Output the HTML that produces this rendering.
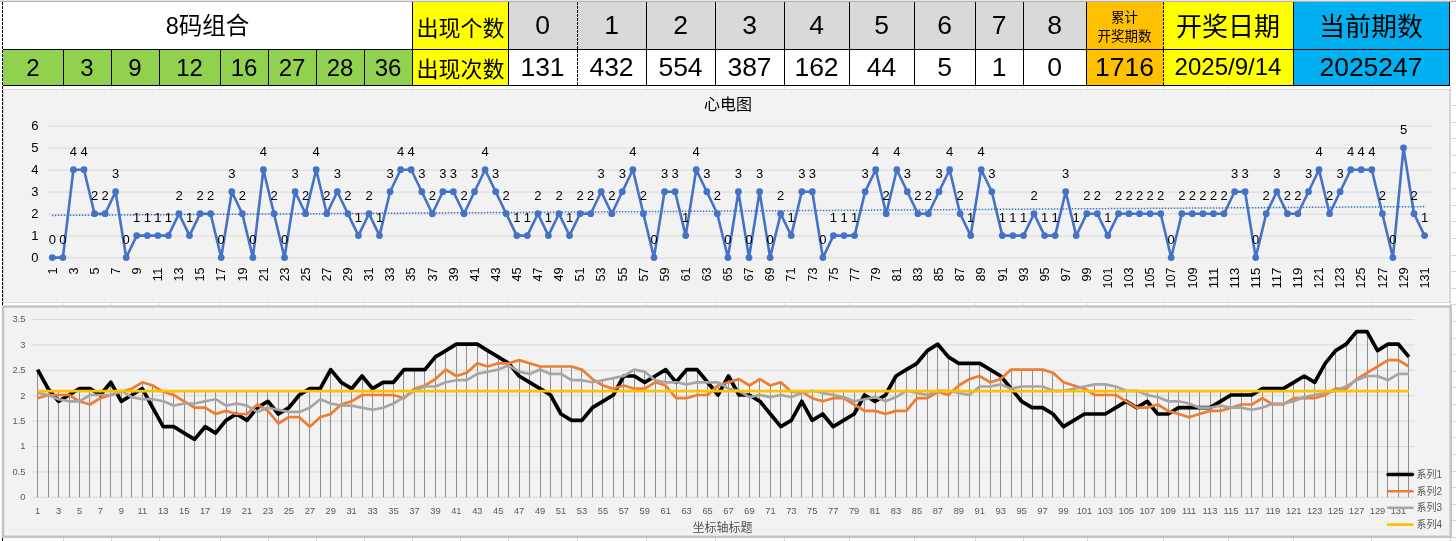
<!DOCTYPE html><html><head><meta charset="utf-8"><title>8码组合</title><style>
html,body{margin:0;padding:0;background:#fff;}
body{width:1456px;height:541px;overflow:hidden;position:relative;font-family:"Liberation Sans", "Noto Sans CJK SC", sans-serif;color:#000;}
.c{position:absolute;box-sizing:border-box;display:flex;align-items:center;justify-content:center;white-space:nowrap;line-height:1;}
.ln{position:absolute;background:#000;}
svg{position:absolute;left:0;top:0;}
svg text{font-family:"Liberation Sans", "Noto Sans CJK SC", sans-serif;}

</style></head><body>
<div class="ln" style="left:0;top:0;width:1456px;height:1px;background:#e4e4e4"></div>
<div class="ln" style="left:0;top:1px;width:1456px;height:1px;background:#b4b4b4"></div>
<div class="c" style="left:3px;top:2px;width:409px;height:47px;background:#fff;font-size:23.5px;padding-top:2px;">8码组合</div>
<div class="c" style="left:412px;top:2px;width:96px;height:47px;background:#ffff00;font-size:22px;padding-top:6px;padding-left:1px;">出现个数</div>
<div class="c" style="left:508px;top:2px;width:69px;height:47px;background:#d9d9d9;font-size:26.5px;">0</div>
<div class="c" style="left:508px;top:49px;width:69px;height:36px;background:#fff;font-size:26.5px;">131</div>
<div class="c" style="left:577px;top:2px;width:69px;height:47px;background:#d9d9d9;font-size:26.5px;">1</div>
<div class="c" style="left:577px;top:49px;width:69px;height:36px;background:#fff;font-size:26.5px;">432</div>
<div class="c" style="left:646px;top:2px;width:69px;height:47px;background:#d9d9d9;font-size:26.5px;">2</div>
<div class="c" style="left:646px;top:49px;width:69px;height:36px;background:#fff;font-size:26.5px;">554</div>
<div class="c" style="left:715px;top:2px;width:69px;height:47px;background:#d9d9d9;font-size:26.5px;">3</div>
<div class="c" style="left:715px;top:49px;width:69px;height:36px;background:#fff;font-size:26.5px;">387</div>
<div class="c" style="left:784px;top:2px;width:65px;height:47px;background:#d9d9d9;font-size:26.5px;">4</div>
<div class="c" style="left:784px;top:49px;width:65px;height:36px;background:#fff;font-size:26.5px;">162</div>
<div class="c" style="left:849px;top:2px;width:65px;height:47px;background:#d9d9d9;font-size:26.5px;">5</div>
<div class="c" style="left:849px;top:49px;width:65px;height:36px;background:#fff;font-size:26.5px;">44</div>
<div class="c" style="left:914px;top:2px;width:61px;height:47px;background:#d9d9d9;font-size:26.5px;">6</div>
<div class="c" style="left:914px;top:49px;width:61px;height:36px;background:#fff;font-size:26.5px;">5</div>
<div class="c" style="left:975px;top:2px;width:48px;height:47px;background:#d9d9d9;font-size:26.5px;">7</div>
<div class="c" style="left:975px;top:49px;width:48px;height:36px;background:#fff;font-size:26.5px;">1</div>
<div class="c" style="left:1023px;top:2px;width:63px;height:47px;background:#d9d9d9;font-size:26.5px;">8</div>
<div class="c" style="left:1023px;top:49px;width:63px;height:36px;background:#fff;font-size:26.5px;">0</div>
<div class="c" style="left:1086px;top:2px;width:77px;height:47px;background:#ffc000;font-size:13.5px;padding-top:4px;"><div style="text-align:center;line-height:18.6px;font-size:13.5px">累计<br>开奖期数</div></div>
<div class="c" style="left:1163px;top:2px;width:130px;height:47px;background:#ffff00;font-size:26px;padding-top:2px;">开奖日期</div>
<div class="c" style="left:1293px;top:2px;width:156px;height:47px;background:#00b0f0;font-size:26px;padding-top:2px;">当前期数</div>
<div class="c" style="left:3px;top:49px;width:60px;height:36px;background:#92d050;font-size:24px;padding-top:1px;">2</div>
<div class="c" style="left:63px;top:49px;width:48px;height:36px;background:#92d050;font-size:24px;padding-top:1px;">3</div>
<div class="c" style="left:111px;top:49px;width:48px;height:36px;background:#92d050;font-size:24px;padding-top:1px;">9</div>
<div class="c" style="left:159px;top:49px;width:61px;height:36px;background:#92d050;font-size:24px;padding-top:1px;">12</div>
<div class="c" style="left:220px;top:49px;width:48px;height:36px;background:#92d050;font-size:24px;padding-top:1px;">16</div>
<div class="c" style="left:268px;top:49px;width:48px;height:36px;background:#92d050;font-size:24px;padding-top:1px;">27</div>
<div class="c" style="left:316px;top:49px;width:48px;height:36px;background:#92d050;font-size:24px;padding-top:1px;">28</div>
<div class="c" style="left:364px;top:49px;width:48px;height:36px;background:#92d050;font-size:24px;padding-top:1px;">36</div>
<div class="c" style="left:412px;top:49px;width:96px;height:36px;background:#ffff00;font-size:22px;padding-top:5px;padding-left:1px;">出现次数</div>
<div class="c" style="left:1086px;top:49px;width:77px;height:36px;background:#ffc000;font-size:26.5px;">1716</div>
<div class="c" style="left:1163px;top:49px;width:130px;height:36px;background:#ffff00;font-size:24px;">2025/9/14</div>
<div class="c" style="left:1293px;top:49px;width:156px;height:36px;background:#00b0f0;font-size:26.5px;">2025247</div>
<div class="ln" style="left:3px;top:49px;width:1447px;height:1px;background:#000"></div>
<div class="ln" style="left:3px;top:85px;width:1447px;height:1px;background:#000"></div>
<div class="ln" style="left:63px;top:49px;width:1px;height:37px;background:#000"></div>
<div class="ln" style="left:111px;top:49px;width:1px;height:37px;background:#000"></div>
<div class="ln" style="left:159px;top:49px;width:1px;height:37px;background:#000"></div>
<div class="ln" style="left:220px;top:49px;width:1px;height:37px;background:#000"></div>
<div class="ln" style="left:268px;top:49px;width:1px;height:37px;background:#000"></div>
<div class="ln" style="left:316px;top:49px;width:1px;height:37px;background:#000"></div>
<div class="ln" style="left:364px;top:49px;width:1px;height:37px;background:#000"></div>
<div class="ln" style="left:412px;top:49px;width:1px;height:37px;background:#000"></div>
<div class="ln" style="left:412px;top:2px;width:1px;height:84px;background:#000"></div>
<div class="ln" style="left:508px;top:2px;width:1px;height:84px;background:#000"></div>
<div class="ln" style="left:646px;top:2px;width:1px;height:84px;background:#000"></div>
<div class="ln" style="left:715px;top:2px;width:1px;height:84px;background:#000"></div>
<div class="ln" style="left:784px;top:2px;width:1px;height:84px;background:#000"></div>
<div class="ln" style="left:849px;top:2px;width:1px;height:84px;background:#000"></div>
<div class="ln" style="left:914px;top:2px;width:1px;height:84px;background:#000"></div>
<div class="ln" style="left:975px;top:2px;width:1px;height:84px;background:#000"></div>
<div class="ln" style="left:1023px;top:2px;width:1px;height:84px;background:#000"></div>
<div class="ln" style="left:1086px;top:2px;width:1px;height:84px;background:#000"></div>
<div class="ln" style="left:1293px;top:2px;width:1px;height:84px;background:#000"></div>
<div class="ln" style="left:1449px;top:2px;width:1px;height:84px;background:#000"></div>
<div class="ln" style="left:2px;top:2px;width:1px;height:539px;background:repeating-linear-gradient(to bottom,#000 0,#000 3px,transparent 3px,transparent 4px)"></div>
<div class="ln" style="left:577px;top:2px;width:1px;height:87px;background:repeating-linear-gradient(to bottom,#000 0,#000 3px,transparent 3px,transparent 4px)"></div>
<div class="ln" style="left:1163px;top:2px;width:1px;height:87px;background:repeating-linear-gradient(to bottom,#000 0,#000 3px,transparent 3px,transparent 4px)"></div>
<div class="ln" style="left:1450px;top:86px;width:1px;height:455px;background:#d4d4d4"></div>
<div class="ln" style="left:1450px;top:105px;width:6px;height:1px;background:#d9d9d9"></div>
<div class="ln" style="left:1450px;top:122px;width:6px;height:1px;background:#d9d9d9"></div>
<div class="ln" style="left:1450px;top:138px;width:6px;height:1px;background:#d9d9d9"></div>
<div class="ln" style="left:1450px;top:155px;width:6px;height:1px;background:#d9d9d9"></div>
<div class="ln" style="left:1450px;top:172px;width:6px;height:1px;background:#d9d9d9"></div>
<div class="ln" style="left:1450px;top:188px;width:6px;height:1px;background:#d9d9d9"></div>
<div class="ln" style="left:1450px;top:205px;width:6px;height:1px;background:#d9d9d9"></div>
<div class="ln" style="left:1450px;top:221px;width:6px;height:1px;background:#d9d9d9"></div>
<div class="ln" style="left:1450px;top:238px;width:6px;height:1px;background:#d9d9d9"></div>
<div class="ln" style="left:1450px;top:255px;width:6px;height:1px;background:#d9d9d9"></div>
<div class="ln" style="left:1450px;top:271px;width:6px;height:1px;background:#d9d9d9"></div>
<div class="ln" style="left:1450px;top:288px;width:6px;height:1px;background:#d9d9d9"></div>
<div class="ln" style="left:1450px;top:304px;width:6px;height:1px;background:#d9d9d9"></div>
<div class="ln" style="left:1450px;top:321px;width:6px;height:1px;background:#d9d9d9"></div>
<div class="ln" style="left:1450px;top:338px;width:6px;height:1px;background:#d9d9d9"></div>
<div class="ln" style="left:1450px;top:354px;width:6px;height:1px;background:#d9d9d9"></div>
<div class="ln" style="left:1450px;top:371px;width:6px;height:1px;background:#d9d9d9"></div>
<div class="ln" style="left:1450px;top:387px;width:6px;height:1px;background:#d9d9d9"></div>
<div class="ln" style="left:1450px;top:404px;width:6px;height:1px;background:#d9d9d9"></div>
<div class="ln" style="left:1450px;top:421px;width:6px;height:1px;background:#d9d9d9"></div>
<div class="ln" style="left:1450px;top:437px;width:6px;height:1px;background:#d9d9d9"></div>
<div class="ln" style="left:1450px;top:454px;width:6px;height:1px;background:#d9d9d9"></div>
<div class="ln" style="left:1450px;top:471px;width:6px;height:1px;background:#d9d9d9"></div>
<div class="ln" style="left:1450px;top:487px;width:6px;height:1px;background:#d9d9d9"></div>
<div class="ln" style="left:1450px;top:504px;width:6px;height:1px;background:#d9d9d9"></div>
<div class="ln" style="left:1450px;top:520px;width:6px;height:1px;background:#d9d9d9"></div>
<div class="ln" style="left:1450px;top:537px;width:6px;height:1px;background:#d9d9d9"></div>
<div class="ln" style="left:63px;top:86px;width:1px;height:3px;background:#e0e0e0"></div>
<div class="ln" style="left:63px;top:303px;width:1px;height:2px;background:#e0e0e0"></div>
<div class="ln" style="left:63px;top:538px;width:1px;height:3px;background:#d9d9d9"></div>
<div class="ln" style="left:111px;top:86px;width:1px;height:3px;background:#e0e0e0"></div>
<div class="ln" style="left:111px;top:303px;width:1px;height:2px;background:#e0e0e0"></div>
<div class="ln" style="left:111px;top:538px;width:1px;height:3px;background:#d9d9d9"></div>
<div class="ln" style="left:159px;top:86px;width:1px;height:3px;background:#e0e0e0"></div>
<div class="ln" style="left:159px;top:303px;width:1px;height:2px;background:#e0e0e0"></div>
<div class="ln" style="left:159px;top:538px;width:1px;height:3px;background:#d9d9d9"></div>
<div class="ln" style="left:220px;top:86px;width:1px;height:3px;background:#e0e0e0"></div>
<div class="ln" style="left:220px;top:303px;width:1px;height:2px;background:#e0e0e0"></div>
<div class="ln" style="left:220px;top:538px;width:1px;height:3px;background:#d9d9d9"></div>
<div class="ln" style="left:268px;top:86px;width:1px;height:3px;background:#e0e0e0"></div>
<div class="ln" style="left:268px;top:303px;width:1px;height:2px;background:#e0e0e0"></div>
<div class="ln" style="left:268px;top:538px;width:1px;height:3px;background:#d9d9d9"></div>
<div class="ln" style="left:316px;top:86px;width:1px;height:3px;background:#e0e0e0"></div>
<div class="ln" style="left:316px;top:303px;width:1px;height:2px;background:#e0e0e0"></div>
<div class="ln" style="left:316px;top:538px;width:1px;height:3px;background:#d9d9d9"></div>
<div class="ln" style="left:364px;top:86px;width:1px;height:3px;background:#e0e0e0"></div>
<div class="ln" style="left:364px;top:303px;width:1px;height:2px;background:#e0e0e0"></div>
<div class="ln" style="left:364px;top:538px;width:1px;height:3px;background:#d9d9d9"></div>
<div class="ln" style="left:412px;top:86px;width:1px;height:3px;background:#e0e0e0"></div>
<div class="ln" style="left:412px;top:303px;width:1px;height:2px;background:#e0e0e0"></div>
<div class="ln" style="left:412px;top:538px;width:1px;height:3px;background:#d9d9d9"></div>
<div class="ln" style="left:460px;top:86px;width:1px;height:3px;background:#e0e0e0"></div>
<div class="ln" style="left:460px;top:303px;width:1px;height:2px;background:#e0e0e0"></div>
<div class="ln" style="left:460px;top:538px;width:1px;height:3px;background:#d9d9d9"></div>
<div class="ln" style="left:508px;top:86px;width:1px;height:3px;background:#e0e0e0"></div>
<div class="ln" style="left:508px;top:303px;width:1px;height:2px;background:#e0e0e0"></div>
<div class="ln" style="left:508px;top:538px;width:1px;height:3px;background:#d9d9d9"></div>
<div class="ln" style="left:577px;top:86px;width:1px;height:3px;background:#e0e0e0"></div>
<div class="ln" style="left:577px;top:303px;width:1px;height:2px;background:#e0e0e0"></div>
<div class="ln" style="left:577px;top:538px;width:1px;height:3px;background:#d9d9d9"></div>
<div class="ln" style="left:646px;top:86px;width:1px;height:3px;background:#e0e0e0"></div>
<div class="ln" style="left:646px;top:303px;width:1px;height:2px;background:#e0e0e0"></div>
<div class="ln" style="left:646px;top:538px;width:1px;height:3px;background:#d9d9d9"></div>
<div class="ln" style="left:715px;top:86px;width:1px;height:3px;background:#e0e0e0"></div>
<div class="ln" style="left:715px;top:303px;width:1px;height:2px;background:#e0e0e0"></div>
<div class="ln" style="left:715px;top:538px;width:1px;height:3px;background:#d9d9d9"></div>
<div class="ln" style="left:784px;top:86px;width:1px;height:3px;background:#e0e0e0"></div>
<div class="ln" style="left:784px;top:303px;width:1px;height:2px;background:#e0e0e0"></div>
<div class="ln" style="left:784px;top:538px;width:1px;height:3px;background:#d9d9d9"></div>
<div class="ln" style="left:849px;top:86px;width:1px;height:3px;background:#e0e0e0"></div>
<div class="ln" style="left:849px;top:303px;width:1px;height:2px;background:#e0e0e0"></div>
<div class="ln" style="left:849px;top:538px;width:1px;height:3px;background:#d9d9d9"></div>
<div class="ln" style="left:914px;top:86px;width:1px;height:3px;background:#e0e0e0"></div>
<div class="ln" style="left:914px;top:303px;width:1px;height:2px;background:#e0e0e0"></div>
<div class="ln" style="left:914px;top:538px;width:1px;height:3px;background:#d9d9d9"></div>
<div class="ln" style="left:975px;top:86px;width:1px;height:3px;background:#e0e0e0"></div>
<div class="ln" style="left:975px;top:303px;width:1px;height:2px;background:#e0e0e0"></div>
<div class="ln" style="left:975px;top:538px;width:1px;height:3px;background:#d9d9d9"></div>
<div class="ln" style="left:1023px;top:86px;width:1px;height:3px;background:#e0e0e0"></div>
<div class="ln" style="left:1023px;top:303px;width:1px;height:2px;background:#e0e0e0"></div>
<div class="ln" style="left:1023px;top:538px;width:1px;height:3px;background:#d9d9d9"></div>
<div class="ln" style="left:1087px;top:86px;width:1px;height:3px;background:#e0e0e0"></div>
<div class="ln" style="left:1087px;top:303px;width:1px;height:2px;background:#e0e0e0"></div>
<div class="ln" style="left:1087px;top:538px;width:1px;height:3px;background:#d9d9d9"></div>
<div class="ln" style="left:1163px;top:86px;width:1px;height:3px;background:#e0e0e0"></div>
<div class="ln" style="left:1163px;top:303px;width:1px;height:2px;background:#e0e0e0"></div>
<div class="ln" style="left:1163px;top:538px;width:1px;height:3px;background:#d9d9d9"></div>
<div class="ln" style="left:1228px;top:86px;width:1px;height:3px;background:#e0e0e0"></div>
<div class="ln" style="left:1228px;top:303px;width:1px;height:2px;background:#e0e0e0"></div>
<div class="ln" style="left:1228px;top:538px;width:1px;height:3px;background:#d9d9d9"></div>
<div class="ln" style="left:1293px;top:86px;width:1px;height:3px;background:#e0e0e0"></div>
<div class="ln" style="left:1293px;top:303px;width:1px;height:2px;background:#e0e0e0"></div>
<div class="ln" style="left:1293px;top:538px;width:1px;height:3px;background:#d9d9d9"></div>
<div class="ln" style="left:1371px;top:86px;width:1px;height:3px;background:#e0e0e0"></div>
<div class="ln" style="left:1371px;top:303px;width:1px;height:2px;background:#e0e0e0"></div>
<div class="ln" style="left:1371px;top:538px;width:1px;height:3px;background:#d9d9d9"></div>
<svg width="1456" height="541" viewBox="0 0 1456 541">
<rect x="3.5" y="89.5" width="1446" height="213" fill="#f2f2f2" stroke="#d9d9d9" stroke-width="1"/>
<path d="M47.5 258.0H1431.5 M47.5 236.0H1431.5 M47.5 214.1H1431.5 M47.5 192.1H1431.5 M47.5 170.1H1431.5 M47.5 148.2H1431.5 M47.5 126.2H1431.5" stroke="#d9d9d9" stroke-width="1" fill="none"/>
<text x="38.5" y="261.8" font-size="13" text-anchor="end" fill="#000">0</text>
<text x="38.5" y="239.8" font-size="13" text-anchor="end" fill="#000">1</text>
<text x="38.5" y="217.9" font-size="13" text-anchor="end" fill="#000">2</text>
<text x="38.5" y="195.9" font-size="13" text-anchor="end" fill="#000">3</text>
<text x="38.5" y="173.9" font-size="13" text-anchor="end" fill="#000">4</text>
<text x="38.5" y="152.0" font-size="13" text-anchor="end" fill="#000">5</text>
<text x="38.5" y="130.0" font-size="13" text-anchor="end" fill="#000">6</text>
<text x="728" y="110.3" font-size="16" text-anchor="middle" fill="#000">心电图</text>
<line x1="51.8" y1="215.4" x2="1424.6" y2="206.6" stroke="#4472c4" stroke-width="1.5" stroke-dasharray="1.5 1.5" />
<polyline points="52.3,257.6 62.9,257.6 73.4,169.7 84.0,169.7 94.5,213.7 105.1,213.7 115.6,191.7 126.2,257.6 136.7,235.6 147.3,235.6 157.9,235.6 168.4,235.6 179.0,213.7 189.5,235.6 200.1,213.7 210.6,213.7 221.2,257.6 231.8,191.7 242.3,213.7 252.9,257.6 263.4,169.7 274.0,213.7 284.5,257.6 295.1,191.7 305.6,213.7 316.2,169.7 326.8,213.7 337.3,191.7 347.9,213.7 358.4,235.6 369.0,213.7 379.5,235.6 390.1,191.7 400.6,169.7 411.2,169.7 421.8,191.7 432.3,213.7 442.9,191.7 453.4,191.7 464.0,213.7 474.5,191.7 485.1,169.7 495.7,191.7 506.2,213.7 516.8,235.6 527.3,235.6 537.9,213.7 548.4,235.6 559.0,213.7 569.5,235.6 580.1,213.7 590.7,213.7 601.2,191.7 611.8,213.7 622.3,191.7 632.9,169.7 643.4,213.7 654.0,257.6 664.5,191.7 675.1,191.7 685.7,235.6 696.2,169.7 706.8,191.7 717.3,213.7 727.9,257.6 738.4,191.7 749.0,257.6 759.6,191.7 770.1,257.6 780.7,213.7 791.2,235.6 801.8,191.7 812.3,191.7 822.9,257.6 833.4,235.6 844.0,235.6 854.6,235.6 865.1,191.7 875.7,169.7 886.2,213.7 896.8,169.7 907.3,191.7 917.9,213.7 928.4,213.7 939.0,191.7 949.6,169.7 960.1,213.7 970.7,235.6 981.2,169.7 991.8,191.7 1002.3,235.6 1012.9,235.6 1023.5,235.6 1034.0,213.7 1044.6,235.6 1055.1,235.6 1065.7,191.7 1076.2,235.6 1086.8,213.7 1097.3,213.7 1107.9,235.6 1118.5,213.7 1129.0,213.7 1139.6,213.7 1150.1,213.7 1160.7,213.7 1171.2,257.6 1181.8,213.7 1192.3,213.7 1202.9,213.7 1213.5,213.7 1224.0,213.7 1234.6,191.7 1245.1,191.7 1255.7,257.6 1266.2,213.7 1276.8,191.7 1287.4,213.7 1297.9,213.7 1308.5,191.7 1319.0,169.7 1329.6,213.7 1340.1,191.7 1350.7,169.7 1361.2,169.7 1371.8,169.7 1382.4,213.7 1392.9,257.6 1403.5,147.8 1414.0,213.7 1424.6,235.6" fill="none" stroke="#4472c4" stroke-width="2.6" stroke-linejoin="round" stroke-linecap="round"/>
<g fill="#4472c4">
<circle cx="52.3" cy="257.6" r="3.4"/>
<circle cx="62.9" cy="257.6" r="3.4"/>
<circle cx="73.4" cy="169.7" r="3.4"/>
<circle cx="84.0" cy="169.7" r="3.4"/>
<circle cx="94.5" cy="213.7" r="3.4"/>
<circle cx="105.1" cy="213.7" r="3.4"/>
<circle cx="115.6" cy="191.7" r="3.4"/>
<circle cx="126.2" cy="257.6" r="3.4"/>
<circle cx="136.7" cy="235.6" r="3.4"/>
<circle cx="147.3" cy="235.6" r="3.4"/>
<circle cx="157.9" cy="235.6" r="3.4"/>
<circle cx="168.4" cy="235.6" r="3.4"/>
<circle cx="179.0" cy="213.7" r="3.4"/>
<circle cx="189.5" cy="235.6" r="3.4"/>
<circle cx="200.1" cy="213.7" r="3.4"/>
<circle cx="210.6" cy="213.7" r="3.4"/>
<circle cx="221.2" cy="257.6" r="3.4"/>
<circle cx="231.8" cy="191.7" r="3.4"/>
<circle cx="242.3" cy="213.7" r="3.4"/>
<circle cx="252.9" cy="257.6" r="3.4"/>
<circle cx="263.4" cy="169.7" r="3.4"/>
<circle cx="274.0" cy="213.7" r="3.4"/>
<circle cx="284.5" cy="257.6" r="3.4"/>
<circle cx="295.1" cy="191.7" r="3.4"/>
<circle cx="305.6" cy="213.7" r="3.4"/>
<circle cx="316.2" cy="169.7" r="3.4"/>
<circle cx="326.8" cy="213.7" r="3.4"/>
<circle cx="337.3" cy="191.7" r="3.4"/>
<circle cx="347.9" cy="213.7" r="3.4"/>
<circle cx="358.4" cy="235.6" r="3.4"/>
<circle cx="369.0" cy="213.7" r="3.4"/>
<circle cx="379.5" cy="235.6" r="3.4"/>
<circle cx="390.1" cy="191.7" r="3.4"/>
<circle cx="400.6" cy="169.7" r="3.4"/>
<circle cx="411.2" cy="169.7" r="3.4"/>
<circle cx="421.8" cy="191.7" r="3.4"/>
<circle cx="432.3" cy="213.7" r="3.4"/>
<circle cx="442.9" cy="191.7" r="3.4"/>
<circle cx="453.4" cy="191.7" r="3.4"/>
<circle cx="464.0" cy="213.7" r="3.4"/>
<circle cx="474.5" cy="191.7" r="3.4"/>
<circle cx="485.1" cy="169.7" r="3.4"/>
<circle cx="495.7" cy="191.7" r="3.4"/>
<circle cx="506.2" cy="213.7" r="3.4"/>
<circle cx="516.8" cy="235.6" r="3.4"/>
<circle cx="527.3" cy="235.6" r="3.4"/>
<circle cx="537.9" cy="213.7" r="3.4"/>
<circle cx="548.4" cy="235.6" r="3.4"/>
<circle cx="559.0" cy="213.7" r="3.4"/>
<circle cx="569.5" cy="235.6" r="3.4"/>
<circle cx="580.1" cy="213.7" r="3.4"/>
<circle cx="590.7" cy="213.7" r="3.4"/>
<circle cx="601.2" cy="191.7" r="3.4"/>
<circle cx="611.8" cy="213.7" r="3.4"/>
<circle cx="622.3" cy="191.7" r="3.4"/>
<circle cx="632.9" cy="169.7" r="3.4"/>
<circle cx="643.4" cy="213.7" r="3.4"/>
<circle cx="654.0" cy="257.6" r="3.4"/>
<circle cx="664.5" cy="191.7" r="3.4"/>
<circle cx="675.1" cy="191.7" r="3.4"/>
<circle cx="685.7" cy="235.6" r="3.4"/>
<circle cx="696.2" cy="169.7" r="3.4"/>
<circle cx="706.8" cy="191.7" r="3.4"/>
<circle cx="717.3" cy="213.7" r="3.4"/>
<circle cx="727.9" cy="257.6" r="3.4"/>
<circle cx="738.4" cy="191.7" r="3.4"/>
<circle cx="749.0" cy="257.6" r="3.4"/>
<circle cx="759.6" cy="191.7" r="3.4"/>
<circle cx="770.1" cy="257.6" r="3.4"/>
<circle cx="780.7" cy="213.7" r="3.4"/>
<circle cx="791.2" cy="235.6" r="3.4"/>
<circle cx="801.8" cy="191.7" r="3.4"/>
<circle cx="812.3" cy="191.7" r="3.4"/>
<circle cx="822.9" cy="257.6" r="3.4"/>
<circle cx="833.4" cy="235.6" r="3.4"/>
<circle cx="844.0" cy="235.6" r="3.4"/>
<circle cx="854.6" cy="235.6" r="3.4"/>
<circle cx="865.1" cy="191.7" r="3.4"/>
<circle cx="875.7" cy="169.7" r="3.4"/>
<circle cx="886.2" cy="213.7" r="3.4"/>
<circle cx="896.8" cy="169.7" r="3.4"/>
<circle cx="907.3" cy="191.7" r="3.4"/>
<circle cx="917.9" cy="213.7" r="3.4"/>
<circle cx="928.4" cy="213.7" r="3.4"/>
<circle cx="939.0" cy="191.7" r="3.4"/>
<circle cx="949.6" cy="169.7" r="3.4"/>
<circle cx="960.1" cy="213.7" r="3.4"/>
<circle cx="970.7" cy="235.6" r="3.4"/>
<circle cx="981.2" cy="169.7" r="3.4"/>
<circle cx="991.8" cy="191.7" r="3.4"/>
<circle cx="1002.3" cy="235.6" r="3.4"/>
<circle cx="1012.9" cy="235.6" r="3.4"/>
<circle cx="1023.5" cy="235.6" r="3.4"/>
<circle cx="1034.0" cy="213.7" r="3.4"/>
<circle cx="1044.6" cy="235.6" r="3.4"/>
<circle cx="1055.1" cy="235.6" r="3.4"/>
<circle cx="1065.7" cy="191.7" r="3.4"/>
<circle cx="1076.2" cy="235.6" r="3.4"/>
<circle cx="1086.8" cy="213.7" r="3.4"/>
<circle cx="1097.3" cy="213.7" r="3.4"/>
<circle cx="1107.9" cy="235.6" r="3.4"/>
<circle cx="1118.5" cy="213.7" r="3.4"/>
<circle cx="1129.0" cy="213.7" r="3.4"/>
<circle cx="1139.6" cy="213.7" r="3.4"/>
<circle cx="1150.1" cy="213.7" r="3.4"/>
<circle cx="1160.7" cy="213.7" r="3.4"/>
<circle cx="1171.2" cy="257.6" r="3.4"/>
<circle cx="1181.8" cy="213.7" r="3.4"/>
<circle cx="1192.3" cy="213.7" r="3.4"/>
<circle cx="1202.9" cy="213.7" r="3.4"/>
<circle cx="1213.5" cy="213.7" r="3.4"/>
<circle cx="1224.0" cy="213.7" r="3.4"/>
<circle cx="1234.6" cy="191.7" r="3.4"/>
<circle cx="1245.1" cy="191.7" r="3.4"/>
<circle cx="1255.7" cy="257.6" r="3.4"/>
<circle cx="1266.2" cy="213.7" r="3.4"/>
<circle cx="1276.8" cy="191.7" r="3.4"/>
<circle cx="1287.4" cy="213.7" r="3.4"/>
<circle cx="1297.9" cy="213.7" r="3.4"/>
<circle cx="1308.5" cy="191.7" r="3.4"/>
<circle cx="1319.0" cy="169.7" r="3.4"/>
<circle cx="1329.6" cy="213.7" r="3.4"/>
<circle cx="1340.1" cy="191.7" r="3.4"/>
<circle cx="1350.7" cy="169.7" r="3.4"/>
<circle cx="1361.2" cy="169.7" r="3.4"/>
<circle cx="1371.8" cy="169.7" r="3.4"/>
<circle cx="1382.4" cy="213.7" r="3.4"/>
<circle cx="1392.9" cy="257.6" r="3.4"/>
<circle cx="1403.5" cy="147.8" r="3.4"/>
<circle cx="1414.0" cy="213.7" r="3.4"/>
<circle cx="1424.6" cy="235.6" r="3.4"/>
</g>
<g font-size="13" text-anchor="middle" fill="#000">
<text x="52.3" y="243.6">0</text>
<text x="62.9" y="243.6">0</text>
<text x="73.4" y="155.7">4</text>
<text x="84.0" y="155.7">4</text>
<text x="94.5" y="199.7">2</text>
<text x="105.1" y="199.7">2</text>
<text x="115.6" y="177.7">3</text>
<text x="126.2" y="243.6">0</text>
<text x="136.7" y="221.6">1</text>
<text x="147.3" y="221.6">1</text>
<text x="157.9" y="221.6">1</text>
<text x="168.4" y="221.6">1</text>
<text x="179.0" y="199.7">2</text>
<text x="189.5" y="221.6">1</text>
<text x="200.1" y="199.7">2</text>
<text x="210.6" y="199.7">2</text>
<text x="221.2" y="243.6">0</text>
<text x="231.8" y="177.7">3</text>
<text x="242.3" y="199.7">2</text>
<text x="252.9" y="243.6">0</text>
<text x="263.4" y="155.7">4</text>
<text x="274.0" y="199.7">2</text>
<text x="284.5" y="243.6">0</text>
<text x="295.1" y="177.7">3</text>
<text x="305.6" y="199.7">2</text>
<text x="316.2" y="155.7">4</text>
<text x="326.8" y="199.7">2</text>
<text x="337.3" y="177.7">3</text>
<text x="347.9" y="199.7">2</text>
<text x="358.4" y="221.6">1</text>
<text x="369.0" y="199.7">2</text>
<text x="379.5" y="221.6">1</text>
<text x="390.1" y="177.7">3</text>
<text x="400.6" y="155.7">4</text>
<text x="411.2" y="155.7">4</text>
<text x="421.8" y="177.7">3</text>
<text x="432.3" y="199.7">2</text>
<text x="442.9" y="177.7">3</text>
<text x="453.4" y="177.7">3</text>
<text x="464.0" y="199.7">2</text>
<text x="474.5" y="177.7">3</text>
<text x="485.1" y="155.7">4</text>
<text x="495.7" y="177.7">3</text>
<text x="506.2" y="199.7">2</text>
<text x="516.8" y="221.6">1</text>
<text x="527.3" y="221.6">1</text>
<text x="537.9" y="199.7">2</text>
<text x="548.4" y="221.6">1</text>
<text x="559.0" y="199.7">2</text>
<text x="569.5" y="221.6">1</text>
<text x="580.1" y="199.7">2</text>
<text x="590.7" y="199.7">2</text>
<text x="601.2" y="177.7">3</text>
<text x="611.8" y="199.7">2</text>
<text x="622.3" y="177.7">3</text>
<text x="632.9" y="155.7">4</text>
<text x="643.4" y="199.7">2</text>
<text x="654.0" y="243.6">0</text>
<text x="664.5" y="177.7">3</text>
<text x="675.1" y="177.7">3</text>
<text x="685.7" y="221.6">1</text>
<text x="696.2" y="155.7">4</text>
<text x="706.8" y="177.7">3</text>
<text x="717.3" y="199.7">2</text>
<text x="727.9" y="243.6">0</text>
<text x="738.4" y="177.7">3</text>
<text x="749.0" y="243.6">0</text>
<text x="759.6" y="177.7">3</text>
<text x="770.1" y="243.6">0</text>
<text x="780.7" y="199.7">2</text>
<text x="791.2" y="221.6">1</text>
<text x="801.8" y="177.7">3</text>
<text x="812.3" y="177.7">3</text>
<text x="822.9" y="243.6">0</text>
<text x="833.4" y="221.6">1</text>
<text x="844.0" y="221.6">1</text>
<text x="854.6" y="221.6">1</text>
<text x="865.1" y="177.7">3</text>
<text x="875.7" y="155.7">4</text>
<text x="886.2" y="199.7">2</text>
<text x="896.8" y="155.7">4</text>
<text x="907.3" y="177.7">3</text>
<text x="917.9" y="199.7">2</text>
<text x="928.4" y="199.7">2</text>
<text x="939.0" y="177.7">3</text>
<text x="949.6" y="155.7">4</text>
<text x="960.1" y="199.7">2</text>
<text x="970.7" y="221.6">1</text>
<text x="981.2" y="155.7">4</text>
<text x="991.8" y="177.7">3</text>
<text x="1002.3" y="221.6">1</text>
<text x="1012.9" y="221.6">1</text>
<text x="1023.5" y="221.6">1</text>
<text x="1034.0" y="199.7">2</text>
<text x="1044.6" y="221.6">1</text>
<text x="1055.1" y="221.6">1</text>
<text x="1065.7" y="177.7">3</text>
<text x="1076.2" y="221.6">1</text>
<text x="1086.8" y="199.7">2</text>
<text x="1097.3" y="199.7">2</text>
<text x="1107.9" y="221.6">1</text>
<text x="1118.5" y="199.7">2</text>
<text x="1129.0" y="199.7">2</text>
<text x="1139.6" y="199.7">2</text>
<text x="1150.1" y="199.7">2</text>
<text x="1160.7" y="199.7">2</text>
<text x="1171.2" y="243.6">0</text>
<text x="1181.8" y="199.7">2</text>
<text x="1192.3" y="199.7">2</text>
<text x="1202.9" y="199.7">2</text>
<text x="1213.5" y="199.7">2</text>
<text x="1224.0" y="199.7">2</text>
<text x="1234.6" y="177.7">3</text>
<text x="1245.1" y="177.7">3</text>
<text x="1255.7" y="243.6">0</text>
<text x="1266.2" y="199.7">2</text>
<text x="1276.8" y="177.7">3</text>
<text x="1287.4" y="199.7">2</text>
<text x="1297.9" y="199.7">2</text>
<text x="1308.5" y="177.7">3</text>
<text x="1319.0" y="155.7">4</text>
<text x="1329.6" y="199.7">2</text>
<text x="1340.1" y="177.7">3</text>
<text x="1350.7" y="155.7">4</text>
<text x="1361.2" y="155.7">4</text>
<text x="1371.8" y="155.7">4</text>
<text x="1382.4" y="199.7">2</text>
<text x="1392.9" y="243.6">0</text>
<text x="1403.5" y="133.8">5</text>
<text x="1414.0" y="199.7">2</text>
<text x="1424.6" y="221.6">1</text>
</g>
<g font-size="13" text-anchor="end" fill="#000">
<text transform="translate(56.5 267.6) rotate(-90)" textLength="7.0" lengthAdjust="spacingAndGlyphs">1</text>
<text transform="translate(77.6 267.6) rotate(-90)" textLength="7.0" lengthAdjust="spacingAndGlyphs">3</text>
<text transform="translate(98.7 267.6) rotate(-90)" textLength="7.0" lengthAdjust="spacingAndGlyphs">5</text>
<text transform="translate(119.8 267.6) rotate(-90)" textLength="7.0" lengthAdjust="spacingAndGlyphs">7</text>
<text transform="translate(140.9 267.6) rotate(-90)" textLength="7.0" lengthAdjust="spacingAndGlyphs">9</text>
<text transform="translate(162.1 267.6) rotate(-90)" textLength="14.0" lengthAdjust="spacingAndGlyphs">11</text>
<text transform="translate(183.2 267.6) rotate(-90)" textLength="14.0" lengthAdjust="spacingAndGlyphs">13</text>
<text transform="translate(204.3 267.6) rotate(-90)" textLength="14.0" lengthAdjust="spacingAndGlyphs">15</text>
<text transform="translate(225.4 267.6) rotate(-90)" textLength="14.0" lengthAdjust="spacingAndGlyphs">17</text>
<text transform="translate(246.5 267.6) rotate(-90)" textLength="14.0" lengthAdjust="spacingAndGlyphs">19</text>
<text transform="translate(267.6 267.6) rotate(-90)" textLength="14.0" lengthAdjust="spacingAndGlyphs">21</text>
<text transform="translate(288.7 267.6) rotate(-90)" textLength="14.0" lengthAdjust="spacingAndGlyphs">23</text>
<text transform="translate(309.8 267.6) rotate(-90)" textLength="14.0" lengthAdjust="spacingAndGlyphs">25</text>
<text transform="translate(331.0 267.6) rotate(-90)" textLength="14.0" lengthAdjust="spacingAndGlyphs">27</text>
<text transform="translate(352.1 267.6) rotate(-90)" textLength="14.0" lengthAdjust="spacingAndGlyphs">29</text>
<text transform="translate(373.2 267.6) rotate(-90)" textLength="14.0" lengthAdjust="spacingAndGlyphs">31</text>
<text transform="translate(394.3 267.6) rotate(-90)" textLength="14.0" lengthAdjust="spacingAndGlyphs">33</text>
<text transform="translate(415.4 267.6) rotate(-90)" textLength="14.0" lengthAdjust="spacingAndGlyphs">35</text>
<text transform="translate(436.5 267.6) rotate(-90)" textLength="14.0" lengthAdjust="spacingAndGlyphs">37</text>
<text transform="translate(457.6 267.6) rotate(-90)" textLength="14.0" lengthAdjust="spacingAndGlyphs">39</text>
<text transform="translate(478.7 267.6) rotate(-90)" textLength="14.0" lengthAdjust="spacingAndGlyphs">41</text>
<text transform="translate(499.9 267.6) rotate(-90)" textLength="14.0" lengthAdjust="spacingAndGlyphs">43</text>
<text transform="translate(521.0 267.6) rotate(-90)" textLength="14.0" lengthAdjust="spacingAndGlyphs">45</text>
<text transform="translate(542.1 267.6) rotate(-90)" textLength="14.0" lengthAdjust="spacingAndGlyphs">47</text>
<text transform="translate(563.2 267.6) rotate(-90)" textLength="14.0" lengthAdjust="spacingAndGlyphs">49</text>
<text transform="translate(584.3 267.6) rotate(-90)" textLength="14.0" lengthAdjust="spacingAndGlyphs">51</text>
<text transform="translate(605.4 267.6) rotate(-90)" textLength="14.0" lengthAdjust="spacingAndGlyphs">53</text>
<text transform="translate(626.5 267.6) rotate(-90)" textLength="14.0" lengthAdjust="spacingAndGlyphs">55</text>
<text transform="translate(647.6 267.6) rotate(-90)" textLength="14.0" lengthAdjust="spacingAndGlyphs">57</text>
<text transform="translate(668.7 267.6) rotate(-90)" textLength="14.0" lengthAdjust="spacingAndGlyphs">59</text>
<text transform="translate(689.9 267.6) rotate(-90)" textLength="14.0" lengthAdjust="spacingAndGlyphs">61</text>
<text transform="translate(711.0 267.6) rotate(-90)" textLength="14.0" lengthAdjust="spacingAndGlyphs">63</text>
<text transform="translate(732.1 267.6) rotate(-90)" textLength="14.0" lengthAdjust="spacingAndGlyphs">65</text>
<text transform="translate(753.2 267.6) rotate(-90)" textLength="14.0" lengthAdjust="spacingAndGlyphs">67</text>
<text transform="translate(774.3 267.6) rotate(-90)" textLength="14.0" lengthAdjust="spacingAndGlyphs">69</text>
<text transform="translate(795.4 267.6) rotate(-90)" textLength="14.0" lengthAdjust="spacingAndGlyphs">71</text>
<text transform="translate(816.5 267.6) rotate(-90)" textLength="14.0" lengthAdjust="spacingAndGlyphs">73</text>
<text transform="translate(837.6 267.6) rotate(-90)" textLength="14.0" lengthAdjust="spacingAndGlyphs">75</text>
<text transform="translate(858.8 267.6) rotate(-90)" textLength="14.0" lengthAdjust="spacingAndGlyphs">77</text>
<text transform="translate(879.9 267.6) rotate(-90)" textLength="14.0" lengthAdjust="spacingAndGlyphs">79</text>
<text transform="translate(901.0 267.6) rotate(-90)" textLength="14.0" lengthAdjust="spacingAndGlyphs">81</text>
<text transform="translate(922.1 267.6) rotate(-90)" textLength="14.0" lengthAdjust="spacingAndGlyphs">83</text>
<text transform="translate(943.2 267.6) rotate(-90)" textLength="14.0" lengthAdjust="spacingAndGlyphs">85</text>
<text transform="translate(964.3 267.6) rotate(-90)" textLength="14.0" lengthAdjust="spacingAndGlyphs">87</text>
<text transform="translate(985.4 267.6) rotate(-90)" textLength="14.0" lengthAdjust="spacingAndGlyphs">89</text>
<text transform="translate(1006.5 267.6) rotate(-90)" textLength="14.0" lengthAdjust="spacingAndGlyphs">91</text>
<text transform="translate(1027.7 267.6) rotate(-90)" textLength="14.0" lengthAdjust="spacingAndGlyphs">93</text>
<text transform="translate(1048.8 267.6) rotate(-90)" textLength="14.0" lengthAdjust="spacingAndGlyphs">95</text>
<text transform="translate(1069.9 267.6) rotate(-90)" textLength="14.0" lengthAdjust="spacingAndGlyphs">97</text>
<text transform="translate(1091.0 267.6) rotate(-90)" textLength="14.0" lengthAdjust="spacingAndGlyphs">99</text>
<text transform="translate(1112.1 267.6) rotate(-90)" textLength="21.0" lengthAdjust="spacingAndGlyphs">101</text>
<text transform="translate(1133.2 267.6) rotate(-90)" textLength="21.0" lengthAdjust="spacingAndGlyphs">103</text>
<text transform="translate(1154.3 267.6) rotate(-90)" textLength="21.0" lengthAdjust="spacingAndGlyphs">105</text>
<text transform="translate(1175.4 267.6) rotate(-90)" textLength="21.0" lengthAdjust="spacingAndGlyphs">107</text>
<text transform="translate(1196.5 267.6) rotate(-90)" textLength="21.0" lengthAdjust="spacingAndGlyphs">109</text>
<text transform="translate(1217.7 267.6) rotate(-90)" textLength="21.0" lengthAdjust="spacingAndGlyphs">111</text>
<text transform="translate(1238.8 267.6) rotate(-90)" textLength="21.0" lengthAdjust="spacingAndGlyphs">113</text>
<text transform="translate(1259.9 267.6) rotate(-90)" textLength="21.0" lengthAdjust="spacingAndGlyphs">115</text>
<text transform="translate(1281.0 267.6) rotate(-90)" textLength="21.0" lengthAdjust="spacingAndGlyphs">117</text>
<text transform="translate(1302.1 267.6) rotate(-90)" textLength="21.0" lengthAdjust="spacingAndGlyphs">119</text>
<text transform="translate(1323.2 267.6) rotate(-90)" textLength="21.0" lengthAdjust="spacingAndGlyphs">121</text>
<text transform="translate(1344.3 267.6) rotate(-90)" textLength="21.0" lengthAdjust="spacingAndGlyphs">123</text>
<text transform="translate(1365.4 267.6) rotate(-90)" textLength="21.0" lengthAdjust="spacingAndGlyphs">125</text>
<text transform="translate(1386.6 267.6) rotate(-90)" textLength="21.0" lengthAdjust="spacingAndGlyphs">127</text>
<text transform="translate(1407.7 267.6) rotate(-90)" textLength="21.0" lengthAdjust="spacingAndGlyphs">129</text>
<text transform="translate(1428.8 267.6) rotate(-90)" textLength="21.0" lengthAdjust="spacingAndGlyphs">131</text>
</g>
<rect x="3" y="306.5" width="1447.7" height="230.3" fill="#f2f2f2" stroke="#c4c4c4" stroke-width="2.5"/>
<path d="M32.5 497.3H1414.5 M32.5 471.9H1414.5 M32.5 446.5H1414.5 M32.5 421.1H1414.5 M32.5 395.7H1414.5 M32.5 370.3H1414.5 M32.5 344.9H1414.5 M32.5 319.5H1414.5" stroke="#d9d9d9" stroke-width="1" fill="none"/>
<path d="M37.5 369.6V497.3 M48.5 388.7V497.3 M58.5 391.2V497.3 M69.5 391.2V497.3 M79.5 388.7V497.3 M89.5 388.7V497.3 M100.5 391.2V497.3 M110.5 382.3V497.3 M121.5 390.8V497.3 M131.5 388.7V497.3 M142.5 382.3V497.3 M152.5 385.5V497.3 M163.5 391.2V497.3 M173.5 391.2V497.3 M184.5 391.2V497.3 M194.5 391.2V497.3 M205.5 391.2V497.3 M215.5 391.2V497.3 M226.5 391.2V497.3 M236.5 391.2V497.3 M246.5 391.2V497.3 M257.5 391.2V497.3 M267.5 391.2V497.3 M278.5 391.2V497.3 M288.5 391.2V497.3 M299.5 391.2V497.3 M309.5 388.7V497.3 M320.5 388.7V497.3 M330.5 369.6V497.3 M341.5 382.3V497.3 M351.5 388.7V497.3 M362.5 376.0V497.3 M372.5 388.7V497.3 M383.5 382.3V497.3 M393.5 382.3V497.3 M403.5 369.6V497.3 M414.5 369.6V497.3 M424.5 369.6V497.3 M435.5 356.9V497.3 M445.5 350.6V497.3 M456.5 344.2V497.3 M466.5 344.2V497.3 M477.5 344.2V497.3 M487.5 350.6V497.3 M498.5 356.9V497.3 M508.5 363.3V497.3 M519.5 360.1V497.3 M529.5 363.3V497.3 M540.5 366.5V497.3 M550.5 366.5V497.3 M561.5 366.5V497.3 M571.5 366.5V497.3 M581.5 369.6V497.3 M592.5 379.1V497.3 M602.5 380.2V497.3 M613.5 378.1V497.3 M623.5 376.0V497.3 M634.5 369.6V497.3 M644.5 371.7V497.3 M655.5 376.0V497.3 M665.5 369.6V497.3 M676.5 382.3V497.3 M686.5 369.6V497.3 M697.5 369.6V497.3 M707.5 382.3V497.3 M718.5 382.3V497.3 M728.5 376.0V497.3 M738.5 379.1V497.3 M749.5 385.5V497.3 M759.5 379.1V497.3 M770.5 385.5V497.3 M780.5 382.3V497.3 M791.5 391.2V497.3 M801.5 391.2V497.3 M812.5 390.8V497.3 M822.5 391.2V497.3 M833.5 391.2V497.3 M843.5 391.2V497.3 M854.5 391.2V497.3 M864.5 391.2V497.3 M875.5 391.2V497.3 M885.5 391.2V497.3 M895.5 376.0V497.3 M906.5 369.6V497.3 M916.5 363.3V497.3 M927.5 350.6V497.3 M937.5 344.2V497.3 M948.5 356.9V497.3 M958.5 363.3V497.3 M969.5 363.3V497.3 M979.5 363.3V497.3 M990.5 369.6V497.3 M1000.5 376.0V497.3 M1011.5 369.6V497.3 M1021.5 369.6V497.3 M1032.5 369.6V497.3 M1042.5 369.6V497.3 M1052.5 372.8V497.3 M1063.5 382.3V497.3 M1073.5 385.5V497.3 M1084.5 386.5V497.3 M1094.5 384.4V497.3 M1105.5 384.4V497.3 M1115.5 386.5V497.3 M1126.5 390.8V497.3 M1136.5 390.8V497.3 M1147.5 391.2V497.3 M1157.5 391.2V497.3 M1168.5 391.2V497.3 M1178.5 391.2V497.3 M1189.5 391.2V497.3 M1199.5 391.2V497.3 M1210.5 391.2V497.3 M1220.5 391.2V497.3 M1230.5 391.2V497.3 M1241.5 391.2V497.3 M1251.5 391.2V497.3 M1262.5 388.7V497.3 M1272.5 388.7V497.3 M1283.5 388.7V497.3 M1293.5 382.3V497.3 M1304.5 376.0V497.3 M1314.5 382.3V497.3 M1325.5 363.3V497.3 M1335.5 350.6V497.3 M1346.5 344.2V497.3 M1356.5 331.6V497.3 M1367.5 331.6V497.3 M1377.5 350.6V497.3 M1387.5 344.2V497.3 M1398.5 344.2V497.3 M1408.5 356.9V497.3" stroke="#8e8e8e" stroke-width="1" fill="none"/>
<polyline points="37.6,369.6 48.1,388.7 58.5,401.3 69.0,395.0 79.5,388.7 89.9,388.7 100.4,395.0 110.9,382.3 121.3,401.3 131.8,395.0 142.3,388.7 152.7,407.7 163.2,426.7 173.7,426.7 184.2,433.1 194.6,439.4 205.1,426.7 215.6,433.1 226.0,420.4 236.5,414.0 247.0,420.4 257.4,407.7 267.9,401.3 278.4,414.0 288.8,407.7 299.3,395.0 309.8,388.7 320.2,388.7 330.7,369.6 341.2,382.3 351.6,388.7 362.1,376.0 372.6,388.7 383.0,382.3 393.5,382.3 404.0,369.6 414.4,369.6 424.9,369.6 435.4,356.9 445.9,350.6 456.3,344.2 466.8,344.2 477.3,344.2 487.7,350.6 498.2,356.9 508.7,363.3 519.1,376.0 529.6,382.3 540.1,388.7 550.5,395.0 561.0,414.0 571.5,420.4 581.9,420.4 592.4,407.7 602.9,401.3 613.3,395.0 623.8,376.0 634.3,376.0 644.7,382.3 655.2,376.0 665.7,369.6 676.1,382.3 686.6,369.6 697.1,369.6 707.6,382.3 718.0,395.0 728.5,376.0 739.0,395.0 749.4,395.0 759.9,401.3 770.4,414.0 780.8,426.7 791.3,420.4 801.8,401.3 812.2,420.4 822.7,414.0 833.2,426.7 843.6,420.4 854.1,414.0 864.6,395.0 875.0,401.3 885.5,395.0 896.0,376.0 906.4,369.6 916.9,363.3 927.4,350.6 937.8,344.2 948.3,356.9 958.8,363.3 969.3,363.3 979.7,363.3 990.2,369.6 1000.7,376.0 1011.1,388.7 1021.6,401.3 1032.1,407.7 1042.5,407.7 1053.0,414.0 1063.5,426.7 1073.9,420.4 1084.4,414.0 1094.9,414.0 1105.3,414.0 1115.8,407.7 1126.3,401.3 1136.7,407.7 1147.2,401.3 1157.7,414.0 1168.1,414.0 1178.6,407.7 1189.1,407.7 1199.5,407.7 1210.0,407.7 1220.5,401.3 1231.0,395.0 1241.4,395.0 1251.9,395.0 1262.4,388.7 1272.8,388.7 1283.3,388.7 1293.8,382.3 1304.2,376.0 1314.7,382.3 1325.2,363.3 1335.6,350.6 1346.1,344.2 1356.6,331.6 1367.0,331.6 1377.5,350.6 1388.0,344.2 1398.4,344.2 1408.9,356.9" fill="none" stroke="#000" stroke-width="3.7" stroke-linejoin="round" stroke-linecap="butt"/>
<polyline points="37.6,398.2 48.1,395.0 58.5,395.0 69.0,395.0 79.5,401.3 89.9,404.5 100.4,398.2 110.9,395.0 121.3,391.8 131.8,388.7 142.3,382.3 152.7,385.5 163.2,391.8 173.7,395.0 184.2,401.3 194.6,407.7 205.1,407.7 215.6,414.0 226.0,410.9 236.5,414.0 247.0,414.0 257.4,404.5 267.9,410.9 278.4,423.5 288.8,417.2 299.3,417.2 309.8,426.7 320.2,417.2 330.7,414.0 341.2,404.5 351.6,401.3 362.1,395.0 372.6,395.0 383.0,395.0 393.5,395.0 404.0,398.2 414.4,388.7 424.9,385.5 435.4,379.1 445.9,369.6 456.3,376.0 466.8,372.8 477.3,363.3 487.7,366.5 498.2,363.3 508.7,363.3 519.1,360.1 529.6,363.3 540.1,366.5 550.5,366.5 561.0,366.5 571.5,366.5 581.9,369.6 592.4,379.1 602.9,385.5 613.3,388.7 623.8,385.5 634.3,388.7 644.7,388.7 655.2,382.3 665.7,385.5 676.1,398.2 686.6,398.2 697.1,395.0 707.6,395.0 718.0,385.5 728.5,382.3 739.0,379.1 749.4,385.5 759.9,379.1 770.4,385.5 780.8,382.3 791.3,391.8 801.8,391.8 812.2,398.2 822.7,401.3 833.2,398.2 843.6,398.2 854.1,404.5 864.6,410.9 875.0,410.9 885.5,414.0 896.0,410.9 906.4,410.9 916.9,398.2 927.4,398.2 937.8,391.8 948.3,395.0 958.8,385.5 969.3,379.1 979.7,376.0 990.2,382.3 1000.7,379.1 1011.1,369.6 1021.6,369.6 1032.1,369.6 1042.5,369.6 1053.0,372.8 1063.5,382.3 1073.9,385.5 1084.4,388.7 1094.9,395.0 1105.3,395.0 1115.8,395.0 1126.3,401.3 1136.7,407.7 1147.2,407.7 1157.7,404.5 1168.1,410.9 1178.6,414.0 1189.1,417.2 1199.5,414.0 1210.0,410.9 1220.5,410.9 1231.0,407.7 1241.4,404.5 1251.9,404.5 1262.4,398.2 1272.8,404.5 1283.3,404.5 1293.8,398.2 1304.2,398.2 1314.7,398.2 1325.2,395.0 1335.6,388.7 1346.1,388.7 1356.6,379.1 1367.0,372.8 1377.5,366.5 1388.0,360.1 1398.4,360.1 1408.9,366.5" fill="none" stroke="#ed7d31" stroke-width="2.7" stroke-linejoin="round" stroke-linecap="butt"/>
<polyline points="37.6,392.9 48.1,395.0 58.5,399.2 69.0,401.3 79.5,401.3 89.9,395.0 100.4,395.0 110.9,395.0 121.3,390.8 131.8,397.1 142.3,399.2 152.7,399.2 163.2,401.3 173.7,405.6 184.2,403.5 194.6,403.5 205.1,401.3 215.6,399.2 226.0,405.6 236.5,403.5 247.0,405.6 257.4,411.9 267.9,407.7 278.4,409.8 288.8,411.9 299.3,411.9 309.8,407.7 320.2,399.2 330.7,403.5 341.2,405.6 351.6,405.6 362.1,407.7 372.6,409.8 383.0,407.7 393.5,403.5 404.0,397.1 414.4,390.8 424.9,386.5 435.4,386.5 445.9,382.3 456.3,380.2 466.8,380.2 477.3,373.9 487.7,371.7 498.2,369.6 508.7,365.4 519.1,371.7 529.6,373.9 540.1,369.6 550.5,373.9 561.0,373.9 571.5,380.2 581.9,380.2 592.4,382.3 602.9,380.2 613.3,378.1 623.8,376.0 634.3,369.6 644.7,371.7 655.2,380.2 665.7,382.3 676.1,382.3 686.6,384.4 697.1,382.3 707.6,382.3 718.0,382.3 728.5,388.7 739.0,390.8 749.4,397.1 759.9,395.0 770.4,397.1 780.8,395.0 791.3,397.1 801.8,392.9 812.2,390.8 822.7,392.9 833.2,395.0 843.6,397.1 854.1,401.3 864.6,399.2 875.0,397.1 885.5,401.3 896.0,397.1 906.4,390.8 916.9,392.9 927.4,395.0 937.8,390.8 948.3,390.8 958.8,392.9 969.3,395.0 979.7,386.5 990.2,386.5 1000.7,384.4 1011.1,388.7 1021.6,386.5 1032.1,386.5 1042.5,386.5 1053.0,390.8 1063.5,390.8 1073.9,388.7 1084.4,386.5 1094.9,384.4 1105.3,384.4 1115.8,386.5 1126.3,390.8 1136.7,390.8 1147.2,395.0 1157.7,397.1 1168.1,401.3 1178.6,401.3 1189.1,403.5 1199.5,407.7 1210.0,407.7 1220.5,405.6 1231.0,407.7 1241.4,407.7 1251.9,409.8 1262.4,407.7 1272.8,403.5 1283.3,403.5 1293.8,401.3 1304.2,397.1 1314.7,395.0 1325.2,392.9 1335.6,390.8 1346.1,386.5 1356.6,380.2 1367.0,376.0 1377.5,376.0 1388.0,380.2 1398.4,373.9 1408.9,373.9" fill="none" stroke="#a5a5a5" stroke-width="2.7" stroke-linejoin="round" stroke-linecap="butt"/>
<polyline points="37.6,391.2 48.1,391.2 58.5,391.2 69.0,391.2 79.5,391.2 89.9,391.2 100.4,391.2 110.9,391.2 121.3,391.2 131.8,391.2 142.3,391.2 152.7,391.2 163.2,391.2 173.7,391.2 184.2,391.2 194.6,391.2 205.1,391.2 215.6,391.2 226.0,391.2 236.5,391.2 247.0,391.2 257.4,391.2 267.9,391.2 278.4,391.2 288.8,391.2 299.3,391.2 309.8,391.2 320.2,391.2 330.7,391.2 341.2,391.2 351.6,391.2 362.1,391.2 372.6,391.2 383.0,391.2 393.5,391.2 404.0,391.2 414.4,391.2 424.9,391.2 435.4,391.2 445.9,391.2 456.3,391.2 466.8,391.2 477.3,391.2 487.7,391.2 498.2,391.2 508.7,391.2 519.1,391.2 529.6,391.2 540.1,391.2 550.5,391.2 561.0,391.2 571.5,391.2 581.9,391.2 592.4,391.2 602.9,391.2 613.3,391.2 623.8,391.2 634.3,391.2 644.7,391.2 655.2,391.2 665.7,391.2 676.1,391.2 686.6,391.2 697.1,391.2 707.6,391.2 718.0,391.2 728.5,391.2 739.0,391.2 749.4,391.2 759.9,391.2 770.4,391.2 780.8,391.2 791.3,391.2 801.8,391.2 812.2,391.2 822.7,391.2 833.2,391.2 843.6,391.2 854.1,391.2 864.6,391.2 875.0,391.2 885.5,391.2 896.0,391.2 906.4,391.2 916.9,391.2 927.4,391.2 937.8,391.2 948.3,391.2 958.8,391.2 969.3,391.2 979.7,391.2 990.2,391.2 1000.7,391.2 1011.1,391.2 1021.6,391.2 1032.1,391.2 1042.5,391.2 1053.0,391.2 1063.5,391.2 1073.9,391.2 1084.4,391.2 1094.9,391.2 1105.3,391.2 1115.8,391.2 1126.3,391.2 1136.7,391.2 1147.2,391.2 1157.7,391.2 1168.1,391.2 1178.6,391.2 1189.1,391.2 1199.5,391.2 1210.0,391.2 1220.5,391.2 1231.0,391.2 1241.4,391.2 1251.9,391.2 1262.4,391.2 1272.8,391.2 1283.3,391.2 1293.8,391.2 1304.2,391.2 1314.7,391.2 1325.2,391.2 1335.6,391.2 1346.1,391.2 1356.6,391.2 1367.0,391.2 1377.5,391.2 1388.0,391.2 1398.4,391.2 1408.9,391.2" fill="none" stroke="#ffc000" stroke-width="2.8" stroke-linejoin="round" stroke-linecap="butt"/>
<g font-size="9.3" text-anchor="end" fill="#595959">
<text x="25.5" y="500.2">0</text>
<text x="25.5" y="474.8">0.5</text>
<text x="25.5" y="449.4">1</text>
<text x="25.5" y="424.0">1.5</text>
<text x="25.5" y="398.6">2</text>
<text x="25.5" y="373.2">2.5</text>
<text x="25.5" y="347.8">3</text>
<text x="25.5" y="322.4">3.5</text>
</g>
<g font-size="9.3" text-anchor="middle" fill="#595959">
<text x="37.6" y="514">1</text>
<text x="58.5" y="514">3</text>
<text x="79.5" y="514">5</text>
<text x="100.4" y="514">7</text>
<text x="121.3" y="514">9</text>
<text x="142.3" y="514">11</text>
<text x="163.2" y="514">13</text>
<text x="184.2" y="514">15</text>
<text x="205.1" y="514">17</text>
<text x="226.0" y="514">19</text>
<text x="247.0" y="514">21</text>
<text x="267.9" y="514">23</text>
<text x="288.8" y="514">25</text>
<text x="309.8" y="514">27</text>
<text x="330.7" y="514">29</text>
<text x="351.6" y="514">31</text>
<text x="372.6" y="514">33</text>
<text x="393.5" y="514">35</text>
<text x="414.4" y="514">37</text>
<text x="435.4" y="514">39</text>
<text x="456.3" y="514">41</text>
<text x="477.3" y="514">43</text>
<text x="498.2" y="514">45</text>
<text x="519.1" y="514">47</text>
<text x="540.1" y="514">49</text>
<text x="561.0" y="514">51</text>
<text x="581.9" y="514">53</text>
<text x="602.9" y="514">55</text>
<text x="623.8" y="514">57</text>
<text x="644.7" y="514">59</text>
<text x="665.7" y="514">61</text>
<text x="686.6" y="514">63</text>
<text x="707.6" y="514">65</text>
<text x="728.5" y="514">67</text>
<text x="749.4" y="514">69</text>
<text x="770.4" y="514">71</text>
<text x="791.3" y="514">73</text>
<text x="812.2" y="514">75</text>
<text x="833.2" y="514">77</text>
<text x="854.1" y="514">79</text>
<text x="875.0" y="514">81</text>
<text x="896.0" y="514">83</text>
<text x="916.9" y="514">85</text>
<text x="937.8" y="514">87</text>
<text x="958.8" y="514">89</text>
<text x="979.7" y="514">91</text>
<text x="1000.7" y="514">93</text>
<text x="1021.6" y="514">95</text>
<text x="1042.5" y="514">97</text>
<text x="1063.5" y="514">99</text>
<text x="1084.4" y="514">101</text>
<text x="1105.3" y="514">103</text>
<text x="1126.3" y="514">105</text>
<text x="1147.2" y="514">107</text>
<text x="1168.1" y="514">109</text>
<text x="1189.1" y="514">111</text>
<text x="1210.0" y="514">113</text>
<text x="1231.0" y="514">115</text>
<text x="1251.9" y="514">117</text>
<text x="1272.8" y="514">119</text>
<text x="1293.8" y="514">121</text>
<text x="1314.7" y="514">123</text>
<text x="1335.6" y="514">125</text>
<text x="1356.6" y="514">127</text>
<text x="1377.5" y="514">129</text>
<text x="1398.4" y="514">131</text>
</g>
<text x="722.5" y="531.8" font-size="12" text-anchor="middle" fill="#505050">坐标轴标题</text>
<line x1="1388" y1="474.5" x2="1412.5" y2="474.5" stroke="#000" stroke-width="3.4" stroke-linecap="round"/>
<text x="1416.6" y="478.1" font-size="10" fill="#595959">系列1</text>
<line x1="1388" y1="491.2" x2="1412.5" y2="491.2" stroke="#ed7d31" stroke-width="2.5" stroke-linecap="round"/>
<text x="1416.6" y="494.8" font-size="10" fill="#595959">系列2</text>
<line x1="1388" y1="507.8" x2="1412.5" y2="507.8" stroke="#a5a5a5" stroke-width="2.5" stroke-linecap="round"/>
<text x="1416.6" y="511.4" font-size="10" fill="#595959">系列3</text>
<line x1="1388" y1="524.6" x2="1412.5" y2="524.6" stroke="#ffc000" stroke-width="2.6" stroke-linecap="round"/>
<text x="1416.6" y="528.2" font-size="10" fill="#595959">系列4</text>
</svg>
</body></html>
